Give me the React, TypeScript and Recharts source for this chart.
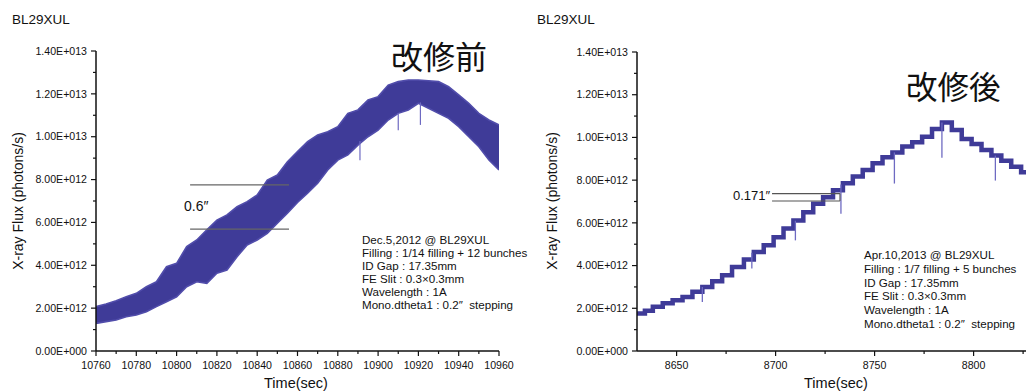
import React from 'react';
import { ComposedChart, Area, Line, XAxis, YAxis, ReferenceLine } from 'recharts';

// ---------- Left panel (before modification) ----------
const leftTime = [10760, 10765, 10770, 10775, 10780, 10785, 10790, 10795, 10800, 10805, 10810, 10815, 10820, 10825, 10830, 10835, 10840, 10845, 10850, 10855, 10860, 10865, 10870, 10875, 10880, 10885, 10890, 10895, 10900, 10905, 10910, 10915, 10920, 10925, 10930, 10935, 10940, 10945, 10950, 10955, 10960];
const leftUpper = [2.07e12, 2.19e12, 2.35e12, 2.53e12, 2.69e12, 3.0e12, 3.23e12, 3.93e12, 4.09e12, 4.87e12, 5.18e12, 5.65e12, 6.11e12, 6.35e12, 6.73e12, 6.97e12, 7.28e12, 7.98e12, 8.21e12, 8.83e12, 9.31e12, 9.77e12, 1.008e13, 1.023e13, 1.047e13, 1.109e13, 1.125e13, 1.171e13, 1.187e13, 1.241e13, 1.257e13, 1.265e13, 1.265e13, 1.261e13, 1.257e13, 1.233e13, 1.195e13, 1.156e13, 1.109e13, 1.078e13, 1.055e13];
const leftLower = [1.29e12, 1.37e12, 1.45e12, 1.6e12, 1.68e12, 1.83e12, 2.07e12, 2.3e12, 2.53e12, 3.0e12, 3.23e12, 3.16e12, 3.63e12, 3.78e12, 4.4e12, 4.95e12, 5.18e12, 5.49e12, 5.96e12, 6.43e12, 6.93e12, 7.36e12, 7.83e12, 8.45e12, 8.91e12, 9.15e12, 9.61e12, 1.0e13, 1.031e13, 1.078e13, 1.109e13, 1.125e13, 1.156e13, 1.133e13, 1.109e13, 1.086e13, 1.047e13, 1.0e13, 9.53e12, 8.91e12, 8.45e12];
// downward spikes: time, from, to
const leftSpikeTime = [10891, 10910, 10921];
const leftSpikeTop = [9.8e12, 1.11e13, 1.16e13];
const leftSpikeBottom = [8.9e12, 1.03e13, 1.055e13];
const leftTicksX = [10760, 10770, 10780, 10790, 10800, 10810, 10820, 10830, 10840, 10850, 10860, 10870, 10880, 10890, 10900, 10910, 10920, 10930, 10940, 10950, 10960];
const leftMarkTimes = [10806.7, 10855.8];
const leftMarkLevels = [7.75e12, 5.69e12];

// ---------- Right panel (after modification) ----------
const rightTime = [8630, 8634, 8638, 8643, 8648, 8653, 8658, 8663, 8668, 8673, 8678, 8684, 8689, 8694, 8699, 8704, 8709, 8714, 8719, 8724, 8729, 8734, 8739, 8744, 8749, 8754, 8759, 8764, 8769, 8774, 8779, 8784, 8789, 8794, 8799, 8804, 8809, 8814, 8819, 8824, 8830];
const rightFlux = [1.76e12, 1.88e12, 2.07e12, 2.23e12, 2.38e12, 2.53e12, 2.77e12, 3.0e12, 3.27e12, 3.55e12, 3.93e12, 4.28e12, 4.63e12, 4.95e12, 5.33e12, 5.73e12, 6.11e12, 6.5e12, 6.89e12, 7.2e12, 7.53e12, 7.85e12, 8.17e12, 8.48e12, 8.79e12, 9.07e12, 9.3e12, 9.57e12, 9.77e12, 1.003e13, 1.039e13, 1.07e13, 1.035e13, 9.93e12, 9.69e12, 9.41e12, 9.15e12, 8.91e12, 8.63e12, 8.37e12, 8.3e12];
const rightSpikeTime = [8663, 8688, 8710, 8733, 8760, 8784, 8811];
const rightSpikeTop = [3.0e12, 4.6e12, 6.1e12, 7.8e12, 9.3e12, 1.07e13, 9.15e12];
const rightSpikeBottom = [2.3e12, 3.86e12, 5.18e12, 6.43e12, 7.84e12, 9.05e12, 7.98e12];
const rightTicksX = [8650, 8675, 8700, 8725, 8750, 8775, 8800, 8825];
const rightMarkTimes = [8698.2, 8732.5];
const rightMarkLevels = [7.37e12, 7.02e12];

const yTicks = [0, 1e12, 2e12, 3e12, 4e12, 5e12, 6e12, 7e12, 8e12, 9e12, 1e13, 1.1e13, 1.2e13, 1.3e13, 1.4e13];

const leftInfo = ['Dec.5,2012 @ BL29XUL', 'Filling : 1/14 filling + 12 bunches', 'ID Gap : 17.35mm', 'FE Slit : 0.3\u00d70.3mm', 'Wavelength : 1A', 'Mono.dtheta1 : 0.2\u2033\u00a0\u00a0stepping'];
const rightInfo = ['Apr.10,2013 @ BL29XUL', 'Filling : 1/7 filling + 5 bunches', 'ID Gap : 17.35mm', 'FE Slit : 0.3\u00d70.3mm', 'Wavelength : 1A', 'Mono.dtheta1 : 0.2\u2033\u00a0\u00a0stepping'];

const BLUE = '#3f3b98';
const EDGE = '#514dab';
const SPIKE = '#6e6ac2';
const AX = '#111';
const FONT = '"Liberation Sans", Arial, sans-serif';

const fmtSci = (v: number) => {
  if (v === 0) return '0.00E+000';
  const e = Math.floor(Math.log10(v) + 1e-9);
  const m = v / Math.pow(10, e);
  return m.toFixed(2) + 'E+' + String(e).padStart(3, '0');
};

const YTick = (props: any) => {
  const { x, y, payload } = props;
  const v = payload.value;
  const major = Math.round(v / 1e12) % 2 === 0;
  const ax = x + 9;
  return (
    <g>
      <line x1={ax - (major ? 5 : 3)} x2={ax} y1={y} y2={y} stroke={AX} strokeWidth={1.2} />
      {major && (
        <text x={ax - 9} y={y} dy="0.35em" textAnchor="end" fontSize={10.6} fontFamily={FONT} fill="#111">
          {fmtSci(v)}
        </text>
      )}
    </g>
  );
};

const makeXTick = (majorStep: number) => (props: any) => {
  const { x, y, payload } = props;
  const v = payload.value;
  const major = Math.round(v) % majorStep === 0;
  const ay = y - 8;
  return (
    <g>
      <line x1={x} x2={x} y1={ay} y2={ay + (major ? 5 : 3)} stroke={AX} strokeWidth={1.2} />
      {major && (
        <text x={x} y={ay + 14} dy="0.35em" textAnchor="middle" fontSize={10.6} fontFamily={FONT} fill="#111">
          {v}
        </text>
      )}
    </g>
  );
};
const LeftXTick = makeXTick(20);
const RightXTick = makeXTick(50);

const leftData = leftTime.map((t, i) => ({ t, range: [leftLower[i], leftUpper[i]] }));
const rightData = rightTime.map((t, i) => ({ t, v: rightFlux[i] }));

export default function App() {
  return (
    <div style={{ position: 'absolute', left: 0, top: 0, width: 1026, height: 392, overflow: 'hidden', background: '#fff' }}>
      <div style={{ position: 'absolute', left: 0, top: 0 }}>
        <ComposedChart width={520} height={392} margin={{ top: 51, right: 21, bottom: 11, left: 56 }}>
          <XAxis type="number" dataKey="t" domain={[10760, 10960]} allowDataOverflow ticks={leftTicksX} interval={0}
            tick={LeftXTick} tickLine={false} tickSize={5} tickMargin={3} height={30}
            axisLine={{ stroke: AX, strokeWidth: 1.5 }} />
          <YAxis type="number" domain={[0, 1.4e13]} allowDataOverflow ticks={yTicks} interval={0}
            tick={YTick} tickLine={false} tickSize={5} tickMargin={4} width={40}
            axisLine={{ stroke: AX, strokeWidth: 1.5 }} />
          <Area data={leftData} dataKey="range" type="linear" stroke={EDGE} strokeWidth={1.6} fill={BLUE} fillOpacity={1} isAnimationActive={false} />
          {leftSpikeTime.map((t, i) => (
            <Line key={'ls' + i} data={[{ t, v: leftSpikeTop[i] }, { t, v: leftSpikeBottom[i] }]} dataKey="v" stroke={SPIKE} strokeWidth={1.2} dot={false} isAnimationActive={false} />
          ))}
          {leftMarkLevels.map((lv, i) => (
            <ReferenceLine key={'lm' + i} segment={[{ x: leftMarkTimes[0], y: lv }, { x: leftMarkTimes[1], y: lv }]} stroke="#666" strokeWidth={1.2} />
          ))}
        </ComposedChart>
      </div>
      <div style={{ position: 'absolute', left: 520, top: 0 }}>
        <ComposedChart width={523} height={392} margin={{ top: 52, right: 10, bottom: 11, left: 77 }}>
          <XAxis type="number" dataKey="t" domain={[8630, 8830]} allowDataOverflow ticks={rightTicksX} interval={0}
            tick={RightXTick} tickLine={false} tickSize={5} tickMargin={3} height={30}
            axisLine={{ stroke: AX, strokeWidth: 1.5 }} />
          <YAxis type="number" domain={[0, 1.4e13]} allowDataOverflow ticks={yTicks} interval={0}
            tick={YTick} tickLine={false} tickSize={5} tickMargin={4} width={40}
            axisLine={{ stroke: AX, strokeWidth: 1.5 }} />
          <Line data={rightData} dataKey="v" type="stepAfter" stroke={BLUE} strokeWidth={4.5} dot={false} isAnimationActive={false} />
          {rightSpikeTime.map((t, i) => (
            <Line key={'rs' + i} data={[{ t, v: rightSpikeTop[i] }, { t, v: rightSpikeBottom[i] }]} dataKey="v" stroke={SPIKE} strokeWidth={1.3} dot={false} isAnimationActive={false} />
          ))}
          {rightMarkLevels.map((lv, i) => (
            <ReferenceLine key={'rm' + i} segment={[{ x: rightMarkTimes[0], y: lv }, { x: rightMarkTimes[1], y: lv }]} stroke="#555" strokeWidth={1.1} />
          ))}
          <ReferenceLine segment={[{ x: rightMarkTimes[1], y: rightMarkLevels[0] }, { x: rightMarkTimes[1], y: rightMarkLevels[1] }]} stroke="#555" strokeWidth={1.1} />
        </ComposedChart>
      </div>
      <svg width={1026} height={392} style={{ position: 'absolute', left: 0, top: 0, pointerEvents: 'none' }}>
        <g fontFamily={FONT} fill="#111">
          <text x={12} y={19} dy="0.35em" fontSize={13.5}>BL29XUL</text>
          <text x={537} y={19} dy="0.35em" fontSize={13.5}>BL29XUL</text>
          <text x={296} y={383} dy="0.35em" fontSize={14.5} textAnchor="middle">Time(sec)</text>
          <text x={836} y={383} dy="0.35em" fontSize={14.5} textAnchor="middle">Time(sec)</text>
          <text transform="translate(18,201) rotate(-90)" dy="0.35em" fontSize={14} textAnchor="middle">X-ray Flux (photons/s)</text>
          <text transform="translate(552,201) rotate(-90)" dy="0.35em" fontSize={14} textAnchor="middle">X-ray Flux (photons/s)</text>
          <text x={184} y={206} dy="0.35em" fontSize={14}>0.6{'\u2033'}</text>
          <text x={733} y={195} dy="0.35em" fontSize={13}>0.171{'\u2033'}</text>
          {leftInfo.map((s, i) => (
            <text key={'li' + i} x={362} y={240 + i * 13} dy="0.35em" fontSize={11.6}>{s}</text>
          ))}
          {rightInfo.map((s, i) => (
            <text key={'ri' + i} x={864} y={255 + i * 13.8} dy="0.35em" fontSize={11.6}>{s}</text>
          ))}
        </g>
        <g fontFamily='"Noto Sans CJK JP", sans-serif' fill="#111">
          <text x={391} y={58} dy="0.35em" fontSize={32}>改修前</text>
          <text x={906} y={88} dy="0.35em" fontSize={31.5}>改修後</text>
        </g>
      </svg>
    </div>
  );
}
